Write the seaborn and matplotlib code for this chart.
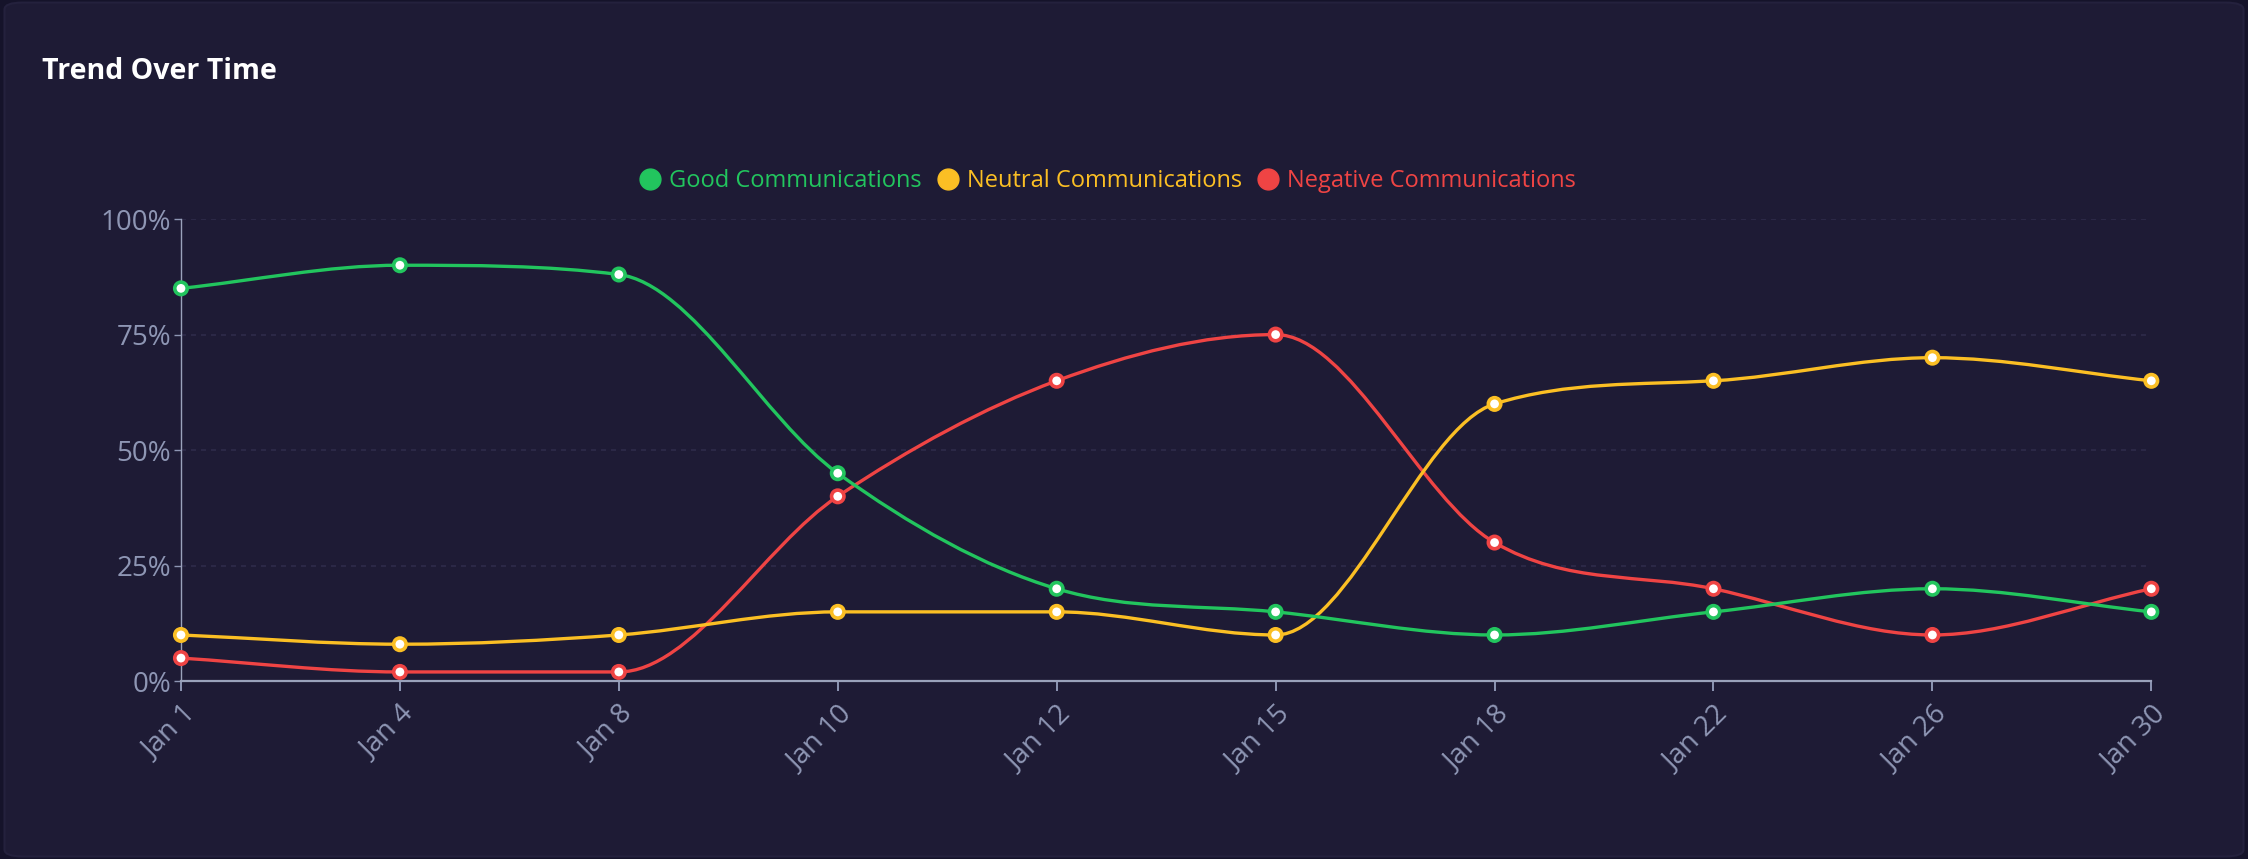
import numpy as np
import pandas as pd
import seaborn as sns
import matplotlib.pyplot as plt
from matplotlib.path import Path
from matplotlib.patches import PathPatch, FancyBboxPatch
from matplotlib.lines import Line2D

dates = ["Jan 1", "Jan 4", "Jan 8", "Jan 10", "Jan 12", "Jan 15", "Jan 18", "Jan 22", "Jan 26", "Jan 30"]
good = [85, 90, 88, 45, 20, 15, 10, 15, 20, 15]
neutral = [10, 8, 10, 15, 15, 10, 60, 65, 70, 65]
negative = [5, 2, 2, 40, 65, 75, 30, 20, 10, 20]
series_names = ["Good Communications", "Neutral Communications", "Negative Communications"]
colors = ["#22c55e", "#fbbf24", "#ef4444"]

BG = "#1e1b35"
TICK = "#8e96b4"

df = pd.DataFrame({"date": dates * 3,
                   "value": good + neutral + negative,
                   "series": np.repeat(series_names, len(dates))})


def monotone_path(xs, ys):
    # cubic bezier segments with monotone tangents (Chart.js style)
    xs = np.asarray(xs, float)
    ys = np.asarray(ys, float)
    n = len(xs)
    d = np.diff(ys) / np.diff(xs)
    m = np.zeros(n)
    m[0], m[-1] = d[0], d[-1]
    for i in range(1, n - 1):
        m[i] = 0 if np.sign(d[i - 1]) != np.sign(d[i]) else (d[i - 1] + d[i]) / 2
    for i in range(n - 1):
        if d[i] == 0:
            m[i] = m[i + 1] = 0
            continue
        a, b = m[i] / d[i], m[i + 1] / d[i]
        s = a * a + b * b
        if s > 9:
            t = 3 / np.sqrt(s)
            m[i], m[i + 1] = t * a * d[i], t * b * d[i]
    verts = [(xs[0], ys[0])]
    codes = [Path.MOVETO]
    for i in range(n - 1):
        h = (xs[i + 1] - xs[i]) / 3
        verts += [(xs[i] + h, ys[i] + m[i] * h),
                  (xs[i + 1] - h, ys[i + 1] - m[i + 1] * h),
                  (xs[i + 1], ys[i + 1])]
        codes += [Path.CURVE4] * 3
    return Path(verts, codes)


sns.set_style("dark")
plt.rcParams["font.family"] = ["Open Sans", "DejaVu Sans"]

fig = plt.figure(figsize=(22.48, 8.59), dpi=100)
fig.patch.set_facecolor("#15132a")
card = FancyBboxPatch((0.002, 0.003), 0.996, 0.994, boxstyle="round,pad=0,rounding_size=0.008",
                      transform=fig.transFigure, facecolor=BG, edgecolor="#24213d", lw=1.5, zorder=-10)
fig.patches.append(card)

ax = fig.add_axes([0.0805, 0.207, 0.8765, 0.538])
ax.set_facecolor("none")

xpos = np.arange(len(dates))
for name, col, vals in reversed(list(zip(series_names, colors, [good, neutral, negative]))):
    ax.add_patch(PathPatch(monotone_path(xpos, vals), facecolor="none", edgecolor=col,
                           lw=2.4, zorder=3, clip_on=False))

sns.scatterplot(data=df, x="date", y="value", hue="series", palette=colors, ax=ax,
                s=80, linewidth=2.6, legend=False, zorder=4, clip_on=False)
for coll in ax.collections:
    coll.set_facecolor("white")
    coll.set_edgecolor([colors[series_names.index(s)] for s in df["series"]])

ax.set_xlim(0, len(dates) - 1)
ax.set_ylim(0, 100)
ax.set_yticks([0, 25, 50, 75, 100])
ax.set_yticklabels([f"{v}%" for v in [0, 25, 50, 75, 100]])
ax.set_xticks(xpos)
ax.set_xticklabels(dates, rotation=45, ha="right", rotation_mode="anchor")
ax.set_xlabel("")
ax.set_ylabel("")

ax.grid(False)
for v in [25, 50, 75, 100]:
    ax.axhline(v, color="#2e2b4a", lw=1.2, ls=(0, (3, 3)), zorder=1)

for side in ["top", "right"]:
    ax.spines[side].set_visible(False)
for side in ["left", "bottom"]:
    ax.spines[side].set_visible(True)
    ax.spines[side].set_color("#9aa2bb")
ax.spines["left"].set_linewidth(1.0)
ax.spines["bottom"].set_linewidth(1.6)
ax.tick_params(axis="y", colors=TICK, labelsize=20, length=5, width=1.0, pad=2, direction="out", left=True)
ax.tick_params(axis="x", colors=TICK, labelsize=20, length=7, width=1.4, pad=7, direction="out", bottom=True)
ax.tick_params(axis="both", labelcolor=TICK)

fig.text(0.0187, 0.917, "Trend Over Time", color="white", fontsize=20.5, fontweight="bold",
         ha="left", va="center")

handles = [Line2D([], [], marker="o", ls="none", markersize=15, markerfacecolor=c, markeredgecolor=c)
           for c in colors]
leg = fig.legend(handles, series_names, loc="center", bbox_to_anchor=(0.4925, 0.789), ncol=3,
                 frameon=False, fontsize=17, handletextpad=0.3, columnspacing=0.6, handlelength=1.0)
for txt, c in zip(leg.get_texts(), colors):
    txt.set_color(c)

fig.savefig("out.png", dpi=100, facecolor=fig.get_facecolor())
